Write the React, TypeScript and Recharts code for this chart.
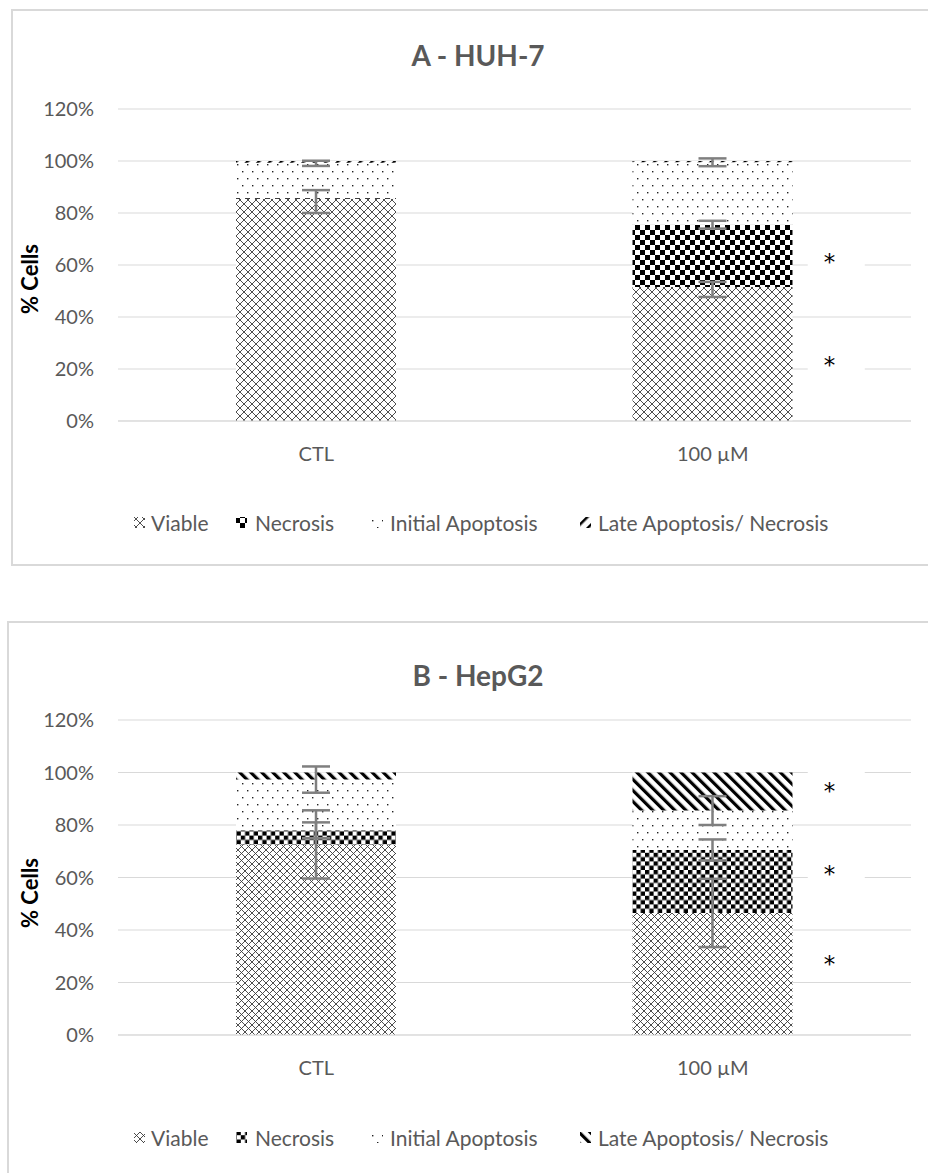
import React from 'react';
import { BarChart, Bar, XAxis, YAxis, CartesianGrid, ErrorBar, ReferenceDot } from 'recharts';

const categories = ['CTL', '100 µM'];
const yTicks = [0, 20, 40, 60, 80, 100, 120];
const seriesNames = ['Viable', 'Necrosis', 'Initial Apoptosis', 'Late Apoptosis/ Necrosis'];

// Panel A - HUH-7
const huhViable = [85.5, 51.5];
const huhNecrosis = [0.3, 24];
const huhInitial = [13.5, 24];
const huhLate = [0.7, 0.5];
const huhViableErr = [[5.5, 3.3], [3.8, 2]];
const huhNecrosisErr = [null, [1.5, 1.5]];
const huhInitialErr = [[1.2, 0.8], [1.5, 1.5]];
const huhStars = [63.5, 24];

// Panel B - HepG2
const hepViable = [72.6, 46.5];
const hepNecrosis = [5.4, 24];
const hepInitial = [19.3, 15];
const hepLate = [2.7, 14.5];
const hepViableErr = [[13, 13], [13, 13]];
const hepNecrosisErr = [[3, 3], [4, 4]];
const hepInitialErr = [[5, 5], [5.5, 5.5]];
const hepStars = [95.4, 63.5, 29.3];

const FONT = "Lato, 'Open Sans', sans-serif";
const GRAY = '#595959';

function buildData(v: number[], n: number[], ini: number[], l: number[], ve: any[], ne: any[], ie: any[]) {
  return categories.map((c, i) => ({
    name: c,
    viable: v[i],
    necrosis: n[i],
    initial: ini[i],
    late: l[i],
    viableErr: ve[i],
    necrosisErr: ne[i],
    initialErr: ie[i],
  }));
}

const dataA = buildData(huhViable, huhNecrosis, huhInitial, huhLate, huhViableErr, huhNecrosisErr, huhInitialErr);
const dataB = buildData(hepViable, hepNecrosis, hepInitial, hepLate, hepViableErr, hepNecrosisErr, hepInitialErr);

const Patterns = () => (
  <svg width={0} height={0} style={{ position: 'absolute' }}>
    <defs>
      <pattern id="viableA" width={8} height={8} patternUnits="userSpaceOnUse">
        <rect width={8} height={8} fill="#fff" />
        <path d="M0,0 L8,8 M8,0 L0,8" stroke="#3a3a3a" strokeWidth={0.9} />
      </pattern>
      <pattern id="viableB" width={7} height={7} patternUnits="userSpaceOnUse">
        <rect width={7} height={7} fill="#fff" />
        <path d="M0,0 L7,7 M7,0 L0,7" stroke="#3a3a3a" strokeWidth={0.9} />
      </pattern>
      <pattern id="necA" width={10} height={10} patternUnits="userSpaceOnUse">
        <rect width={10} height={10} fill="#fff" />
        <rect x={0} y={0} width={5} height={5} fill="#000" />
        <rect x={5} y={5} width={5} height={5} fill="#000" />
      </pattern>
      <pattern id="necB" width={8.6} height={8.6} patternUnits="userSpaceOnUse">
        <rect width={8.6} height={8.6} fill="#fff" />
        <rect x={0} y={0} width={4.3} height={4.3} fill="#000" />
        <rect x={4.3} y={4.3} width={4.3} height={4.3} fill="#000" />
      </pattern>
      <pattern id="initA" width={10} height={14} patternUnits="userSpaceOnUse">
        <rect width={10} height={14} fill="#fff" />
        <rect x={2} y={3} width={1.4} height={1.4} fill="#222" />
        <rect x={7} y={10} width={1.4} height={1.4} fill="#222" />
      </pattern>
      <pattern id="initB" width={10} height={14} patternUnits="userSpaceOnUse">
        <rect width={10} height={14} fill="#fff" />
        <rect x={2} y={3} width={1.4} height={1.4} fill="#222" />
        <rect x={7} y={10} width={1.4} height={1.4} fill="#222" />
      </pattern>
      <pattern id="lateA" width={8} height={8} patternUnits="userSpaceOnUse" patternTransform="rotate(45)">
        <rect width={8} height={8} fill="#fff" />
        <rect x={0} y={0} width={2.5} height={8} fill="#000" />
      </pattern>
      <pattern id="lateB" width={7.8} height={7.8} patternUnits="userSpaceOnUse" patternTransform="rotate(-45)">
        <rect width={7.8} height={7.8} fill="#fff" />
        <rect x={0} y={0} width={3.2} height={7.8} fill="#000" />
      </pattern>
    </defs>
  </svg>
);

const Star = (props: any) => {
  const { cx, cy } = props;
  if (cx == null || cy == null) return null;
  return (
    <g>
      <rect x={cx + 95} y={cy - 14} width={57} height={28} fill="#fff" />
      <text x={cx + 111} y={cy + 14} fontSize={23} fontFamily="'DejaVu Sans', sans-serif" fill="#000">*</text>
    </g>
  );
};

type PanelProps = {
  data: any[];
  stars: number[];
  suffix: string;
  top: number;
  marginTop: number;
  marginBottom: number;
};

const Panel = ({ data, stars, suffix, top, marginTop, marginBottom }: PanelProps) => (
  <div style={{ position: 'absolute', left: 0, top, width: 928, height: 565 }}>
    <BarChart
      width={928}
      height={565}
      data={data}
      margin={{ top: marginTop, right: 17, bottom: marginBottom, left: 58 }}
      barSize={160}
    >
      <CartesianGrid vertical={false} stroke="#d9d9d9" strokeWidth={1} />
      <XAxis
        dataKey="name"
        axisLine={{ stroke: '#d9d9d9' }}
        tickLine={false}
        height={40}
        tickMargin={20}
        tick={{ fontSize: 20, fontFamily: FONT, fill: GRAY }}
      />
      <YAxis
        domain={[0, 120]}
        ticks={yTicks}
        tickFormatter={(v: number) => `${v}%`}
        axisLine={false}
        tickLine={false}
        tickSize={0}
        tickMargin={24}
        width={60}
        interval={0}
        tick={{ fontSize: 20, fontFamily: FONT, fill: GRAY }}
      />
      <Bar dataKey="viable" stackId="s" fill={`url(#viable${suffix})`} isAnimationActive={false}>
        <ErrorBar dataKey="viableErr" width={14} strokeWidth={2.5} stroke="#7f7f7f" direction="y" />
      </Bar>
      <Bar dataKey="necrosis" stackId="s" fill={`url(#nec${suffix})`} isAnimationActive={false}>
        <ErrorBar dataKey="necrosisErr" width={14} strokeWidth={2.5} stroke="#7f7f7f" direction="y" />
      </Bar>
      <Bar dataKey="initial" stackId="s" fill={`url(#init${suffix})`} isAnimationActive={false}>
        <ErrorBar dataKey="initialErr" width={14} strokeWidth={2.5} stroke="#7f7f7f" direction="y" />
      </Bar>
      <Bar dataKey="late" stackId="s" fill={`url(#late${suffix})`} isAnimationActive={false} />
      {stars.map((s, i) => (
        <ReferenceDot key={i} x={categories[1]} y={s} r={0} shape={Star} />
      ))}
    </BarChart>
  </div>
);

const legendX = [{ icon: 134, text: 151 }, { icon: 236, text: 255 }, { icon: 372, text: 390 }, { icon: 580, text: 598 }];

const Legend = ({ suffix, top }: { suffix: string; top: number }) => {
  const ids = ['viable', 'nec', 'init', 'late'];
  return (
    <svg style={{ position: 'absolute', left: 0, top }} width={928} height={40}>
      {seriesNames.map((n, i) => (
        <g key={n}>
          <rect x={legendX[i].icon} y={14} width={11} height={11} fill={`url(#${ids[i]}${suffix})`} />
          <text x={legendX[i].text} y={28} fontSize={21} fontFamily={FONT} fill={GRAY}>{n}</text>
        </g>
      ))}
    </svg>
  );
};

const Texts = ({ title, top, labelY }: { title: string; top: number; labelY: number }) => (
  <svg style={{ position: 'absolute', left: 0, top }} width={928} height={565}>
    <text x={478} y={66} textAnchor="middle" fontSize={28} fontWeight={700} fontFamily={FONT} fill={GRAY}>{title}</text>
    <text x={38} y={labelY} textAnchor="middle" fontSize={22} fontWeight={700} fontFamily={FONT} fill="#000" transform={`rotate(-90 38 ${labelY})`}>% Cells</text>
  </svg>
);

export default function App() {
  return (
    <div style={{ position: 'relative', width: 928, height: 1173, overflow: 'hidden', background: '#fff' }}>
      <style>{'body{margin:0;overflow:hidden;}'}</style>
      <Patterns />
      <div style={{ position: 'absolute', left: 11, top: 9, width: 960, height: 553, border: '2px solid #d9d9d9' }} />
      <div style={{ position: 'absolute', left: 7, top: 621, width: 960, height: 600, border: '2px solid #d9d9d9' }} />
      <Texts title="A - HUH-7" top={0} labelY={279} />
      <Texts title="B - HepG2" top={620} labelY={273} />
      <Panel data={dataA} stars={huhStars} suffix="A" top={0} marginTop={109} marginBottom={104} />
      <Panel data={dataB} stars={hepStars} suffix="B" top={612} marginTop={108} marginBottom={102} />
      <Legend suffix="A" top={503} />
      <Legend suffix="B" top={1118} />
    </div>
  );
}
